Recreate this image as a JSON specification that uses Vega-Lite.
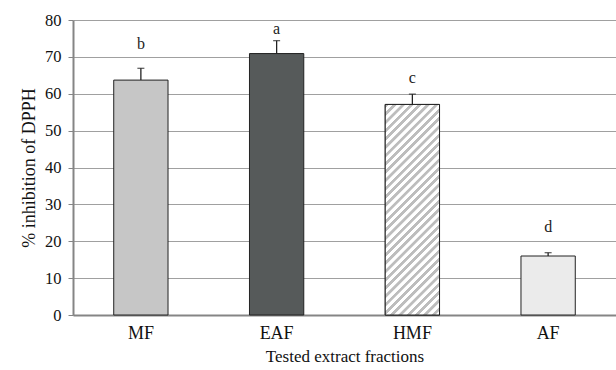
{
  "$schema": "https://vega.github.io/schema/vega-lite/v6.json",
  "width": 543,
  "height": 295,
  "autosize": {"type": "none"},
  "padding": {"left": 73, "top": 20, "right": 0, "bottom": 55},
  "background": "white",
  "config": {
    "view": {"stroke": null},
    "font": "Liberation Serif",
    "axis": {"labelFont": "Liberation Serif", "titleFont": "Liberation Serif", "titleFontWeight": "normal", "labelColor": "#111", "titleColor": "#111"},
    "text": {"font": "Liberation Serif"}
  },
  "resolve": {"axis": {"y": "independent"}},
  "data": {
    "values": [
      {"fraction": "MF", "value": 63.7, "upper": 66.9, "letter": "b", "label_y": 73.5},
      {"fraction": "EAF", "value": 70.9, "upper": 74.4, "letter": "a", "label_y": 77.5},
      {"fraction": "HMF", "value": 57.1, "upper": 59.9, "letter": "c", "label_y": 64.2},
      {"fraction": "AF", "value": 16.0, "upper": 16.9, "letter": "d", "label_y": 23.8}
    ]
  },
  "encoding": {
    "x": {
      "field": "fraction",
      "type": "nominal",
      "sort": null,
      "scale": {"paddingInner": 0.6, "paddingOuter": 0.3},
      "axis": {
        "title": "Tested extract fractions",
        "labelAngle": 0,
        "ticks": false,
        "domainColor": "#858585",
        "domainWidth": 2,
        "labelFontSize": 18,
        "labelPadding": 9,
        "titleFontSize": 17,
        "titlePadding": 6
      }
    }
  },
  "layer": [
    {
      "mark": {"type": "bar", "stroke": "#222", "strokeWidth": 1},
      "encoding": {
        "y": {
          "field": "value",
          "type": "quantitative",
          "title": "% inhibition of DPPH",
          "scale": {"domain": [0, 80], "nice": false},
          "axis": {"values": [0, 10, 20, 30, 40, 50, 60, 70, 80], "grid": true, "gridColor": "#a0a0a0", "gridWidth": 1.2, "domainColor": "#858585", "domainWidth": 2, "tickColor": "#858585", "tickSize": 5, "labelFont": "Liberation Serif", "labelFontSize": 16.5, "labelPadding": 7, "labelOverlap": false, "titleFont": "Liberation Serif", "titleFontSize": 18, "titleFontWeight": "normal", "titlePadding": 6}
        },
        "fill": {
          "field": "fraction",
          "type": "nominal",
          "scale": {"domain": ["MF", "EAF", "HMF", "AF"], "range": ["#c6c6c6", "#565a5a", "#ffffff", "#ebebeb"]},
          "legend": null
        }
      }
    },
    {
      "transform": [{"filter": "datum.fraction === 'HMF'"}],
      "mark": {
        "type": "bar",
        "stroke": "#222",
        "strokeWidth": 1,
        "fill": {
          "gradient": "linear",
          "x1": 0, "y1": 0, "x2": 0.3042, "y2": 1.18,
          "stops": [
            {"offset": 0, "color": "#bdbdbd"}, {"offset": 0.0126, "color": "#bdbdbd"}, {"offset": 0.0156, "color": "#ffffff"}, {"offset": 0.0297, "color": "#ffffff"},
            {"offset": 0.0313, "color": "#bdbdbd"}, {"offset": 0.0438, "color": "#bdbdbd"}, {"offset": 0.0469, "color": "#ffffff"}, {"offset": 0.0609, "color": "#ffffff"},
            {"offset": 0.0625, "color": "#bdbdbd"}, {"offset": 0.0751, "color": "#bdbdbd"}, {"offset": 0.0781, "color": "#ffffff"}, {"offset": 0.0922, "color": "#ffffff"},
            {"offset": 0.0938, "color": "#bdbdbd"}, {"offset": 0.1063, "color": "#bdbdbd"}, {"offset": 0.1094, "color": "#ffffff"}, {"offset": 0.1234, "color": "#ffffff"},
            {"offset": 0.125, "color": "#bdbdbd"}, {"offset": 0.1376, "color": "#bdbdbd"}, {"offset": 0.1406, "color": "#ffffff"}, {"offset": 0.1547, "color": "#ffffff"},
            {"offset": 0.1563, "color": "#bdbdbd"}, {"offset": 0.1688, "color": "#bdbdbd"}, {"offset": 0.1719, "color": "#ffffff"}, {"offset": 0.1859, "color": "#ffffff"},
            {"offset": 0.1875, "color": "#bdbdbd"}, {"offset": 0.2001, "color": "#bdbdbd"}, {"offset": 0.2031, "color": "#ffffff"}, {"offset": 0.2172, "color": "#ffffff"},
            {"offset": 0.2188, "color": "#bdbdbd"}, {"offset": 0.2313, "color": "#bdbdbd"}, {"offset": 0.2344, "color": "#ffffff"}, {"offset": 0.2484, "color": "#ffffff"},
            {"offset": 0.25, "color": "#bdbdbd"}, {"offset": 0.2626, "color": "#bdbdbd"}, {"offset": 0.2656, "color": "#ffffff"}, {"offset": 0.2797, "color": "#ffffff"},
            {"offset": 0.2813, "color": "#bdbdbd"}, {"offset": 0.2938, "color": "#bdbdbd"}, {"offset": 0.2969, "color": "#ffffff"}, {"offset": 0.3109, "color": "#ffffff"},
            {"offset": 0.3125, "color": "#bdbdbd"}, {"offset": 0.3251, "color": "#bdbdbd"}, {"offset": 0.3281, "color": "#ffffff"}, {"offset": 0.3422, "color": "#ffffff"},
            {"offset": 0.3438, "color": "#bdbdbd"}, {"offset": 0.3563, "color": "#bdbdbd"}, {"offset": 0.3594, "color": "#ffffff"}, {"offset": 0.3734, "color": "#ffffff"},
            {"offset": 0.375, "color": "#bdbdbd"}, {"offset": 0.3876, "color": "#bdbdbd"}, {"offset": 0.3906, "color": "#ffffff"}, {"offset": 0.4047, "color": "#ffffff"},
            {"offset": 0.4063, "color": "#bdbdbd"}, {"offset": 0.4188, "color": "#bdbdbd"}, {"offset": 0.4219, "color": "#ffffff"}, {"offset": 0.4359, "color": "#ffffff"},
            {"offset": 0.4375, "color": "#bdbdbd"}, {"offset": 0.4501, "color": "#bdbdbd"}, {"offset": 0.4531, "color": "#ffffff"}, {"offset": 0.4672, "color": "#ffffff"},
            {"offset": 0.4688, "color": "#bdbdbd"}, {"offset": 0.4813, "color": "#bdbdbd"}, {"offset": 0.4844, "color": "#ffffff"}, {"offset": 0.4984, "color": "#ffffff"},
            {"offset": 0.5, "color": "#bdbdbd"}, {"offset": 0.5126, "color": "#bdbdbd"}, {"offset": 0.5156, "color": "#ffffff"}, {"offset": 0.5297, "color": "#ffffff"},
            {"offset": 0.5313, "color": "#bdbdbd"}, {"offset": 0.5438, "color": "#bdbdbd"}, {"offset": 0.5469, "color": "#ffffff"}, {"offset": 0.5609, "color": "#ffffff"},
            {"offset": 0.5625, "color": "#bdbdbd"}, {"offset": 0.5751, "color": "#bdbdbd"}, {"offset": 0.5781, "color": "#ffffff"}, {"offset": 0.5922, "color": "#ffffff"},
            {"offset": 0.5938, "color": "#bdbdbd"}, {"offset": 0.6063, "color": "#bdbdbd"}, {"offset": 0.6094, "color": "#ffffff"}, {"offset": 0.6234, "color": "#ffffff"},
            {"offset": 0.625, "color": "#bdbdbd"}, {"offset": 0.6376, "color": "#bdbdbd"}, {"offset": 0.6406, "color": "#ffffff"}, {"offset": 0.6547, "color": "#ffffff"},
            {"offset": 0.6563, "color": "#bdbdbd"}, {"offset": 0.6688, "color": "#bdbdbd"}, {"offset": 0.6719, "color": "#ffffff"}, {"offset": 0.6859, "color": "#ffffff"},
            {"offset": 0.6875, "color": "#bdbdbd"}, {"offset": 0.7001, "color": "#bdbdbd"}, {"offset": 0.7031, "color": "#ffffff"}, {"offset": 0.7172, "color": "#ffffff"},
            {"offset": 0.7188, "color": "#bdbdbd"}, {"offset": 0.7313, "color": "#bdbdbd"}, {"offset": 0.7344, "color": "#ffffff"}, {"offset": 0.7484, "color": "#ffffff"},
            {"offset": 0.75, "color": "#bdbdbd"}, {"offset": 0.7626, "color": "#bdbdbd"}, {"offset": 0.7656, "color": "#ffffff"}, {"offset": 0.7797, "color": "#ffffff"},
            {"offset": 0.7813, "color": "#bdbdbd"}, {"offset": 0.7938, "color": "#bdbdbd"}, {"offset": 0.7969, "color": "#ffffff"}, {"offset": 0.8109, "color": "#ffffff"},
            {"offset": 0.8125, "color": "#bdbdbd"}, {"offset": 0.8251, "color": "#bdbdbd"}, {"offset": 0.8281, "color": "#ffffff"}, {"offset": 0.8422, "color": "#ffffff"},
            {"offset": 0.8438, "color": "#bdbdbd"}, {"offset": 0.8563, "color": "#bdbdbd"}, {"offset": 0.8594, "color": "#ffffff"}, {"offset": 0.8734, "color": "#ffffff"},
            {"offset": 0.875, "color": "#bdbdbd"}, {"offset": 0.8876, "color": "#bdbdbd"}, {"offset": 0.8906, "color": "#ffffff"}, {"offset": 0.9047, "color": "#ffffff"},
            {"offset": 0.9063, "color": "#bdbdbd"}, {"offset": 0.9188, "color": "#bdbdbd"}, {"offset": 0.9219, "color": "#ffffff"}, {"offset": 0.9359, "color": "#ffffff"},
            {"offset": 0.9375, "color": "#bdbdbd"}, {"offset": 0.9501, "color": "#bdbdbd"}, {"offset": 0.9531, "color": "#ffffff"}, {"offset": 0.9672, "color": "#ffffff"},
            {"offset": 0.9688, "color": "#bdbdbd"}, {"offset": 0.9813, "color": "#bdbdbd"}, {"offset": 0.9844, "color": "#ffffff"}, {"offset": 1, "color": "#ffffff"}
          ]
        }
      },
      "encoding": {
        "y": {"field": "value", "type": "quantitative", "axis": null}
      }
    },
    {
      "mark": {"type": "rule", "color": "#222", "strokeWidth": 1.3},
      "encoding": {
        "y": {"field": "value", "type": "quantitative", "axis": null},
        "y2": {"field": "upper"}
      }
    },
    {
      "mark": {"type": "tick", "color": "#222", "size": 7, "thickness": 1.3, "orient": "horizontal"},
      "encoding": {
        "y": {"field": "upper", "type": "quantitative", "axis": null}
      }
    },
    {
      "mark": {"type": "text", "fontSize": 16, "color": "#222", "baseline": "middle", "font": "Liberation Serif"},
      "encoding": {
        "y": {"field": "label_y", "type": "quantitative", "axis": null},
        "text": {"field": "letter"}
      }
    }
  ]
}
